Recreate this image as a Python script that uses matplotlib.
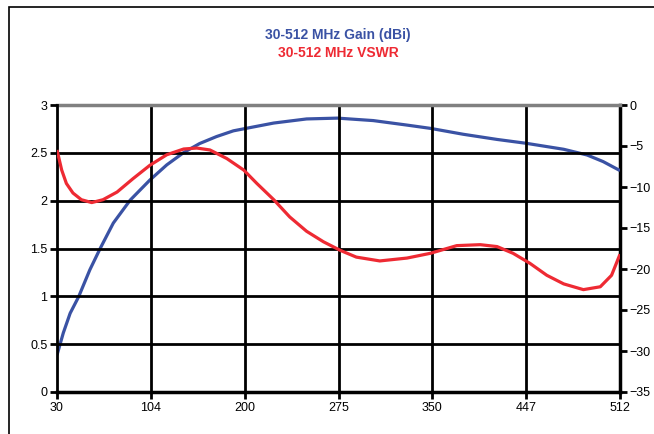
import numpy as np
import matplotlib.pyplot as plt
from matplotlib.patches import Rectangle

plt.rcParams['font.family'] = ['Liberation Sans', 'DejaVu Sans']

freq_labels = ['30', '104', '200', '275', '350', '447', '512']

# curves, x in category units (0 = 30 MHz ... 6 = 512 MHz)
vswr_x = np.array([0, 0.05, 0.10, 0.17, 0.26, 0.37, 0.49, 0.64, 0.81, 0.99, 1.17, 1.35, 1.49,
                   1.63, 1.81, 1.99, 2.13, 2.31, 2.48, 2.66, 2.84, 3.02, 3.19, 3.44, 3.73,
                   3.98, 4.26, 4.51, 4.69, 4.86, 5.04, 5.22, 5.40, 5.61, 5.79, 5.91, 6.0])
vswr = np.array([2.53, 2.32, 2.18, 2.08, 2.01, 1.98, 2.01, 2.09, 2.23, 2.37, 2.48, 2.54, 2.55,
                 2.53, 2.44, 2.32, 2.18, 2.01, 1.83, 1.68, 1.57, 1.48, 1.41, 1.37, 1.40,
                 1.45, 1.53, 1.54, 1.52, 1.45, 1.345, 1.22, 1.13, 1.07, 1.10, 1.22, 1.44])

gain_x = np.array([0, 0.067, 0.14, 0.23, 0.35, 0.46, 0.60, 0.78, 0.99, 1.17, 1.35, 1.52, 1.70,
                   1.88, 2.06, 2.31, 2.66, 2.99, 3.37, 3.73, 3.98, 4.33, 4.69, 5.0, 5.40,
                   5.65, 5.82, 6.0])
gain = np.array([-30.5, -27.8, -25.4, -23.4, -20.1, -17.5, -14.4, -11.6, -9.15, -7.3, -5.8, -4.7, -3.85,
                 -3.15, -2.75, -2.2, -1.7, -1.6, -1.9, -2.45, -2.85, -3.57, -4.2, -4.67, -5.4,
                 -6.1, -6.9, -8.0])

blue = '#3A52A4'
red = '#EE2A33'

fig = plt.figure(figsize=(6.54, 4.34), dpi=100)
ax = fig.add_axes([57 / 654, 1 - 392 / 434, (620 - 57) / 654, (392 - 105) / 434])
ax2 = ax.twinx()

# grid
for yv in np.arange(0.5, 3.0, 0.5):
    ax.axhline(yv, color='black', lw=2.0, zorder=1)
for xv in range(1, 6):
    ax.axvline(xv, color='black', lw=2.0, zorder=1)
ax.axhline(3, color='#808080', lw=2.5, zorder=1, clip_on=False)

ax2.plot(gain_x, gain, color=blue, lw=2.3, zorder=3, solid_joinstyle='round', solid_capstyle='butt')
ax.plot(vswr_x, vswr, color=red, lw=2.3, zorder=3, solid_joinstyle='round', solid_capstyle='butt')
ax.set_zorder(ax2.get_zorder() + 1)
ax.patch.set_visible(False)

ax.set_xlim(0, 6)
ax.set_ylim(0, 3)
ax2.set_ylim(-35, 0)
ax.set_xticks(range(7))
ax.set_xticklabels(freq_labels)
ax.set_yticks(np.arange(0, 3.01, 0.5))
ax.set_yticklabels(['0', '0.5', '1', '1.5', '2', '2.5', '3'])
ax2.set_yticks(np.arange(-35, 1, 5))

for a in (ax, ax2):
    for s in a.spines.values():
        s.set_visible(False)
ax.spines['left'].set_visible(True)
ax.spines['bottom'].set_visible(True)
ax2.spines['right'].set_visible(True)
ax.spines['left'].set_linewidth(2.0)
ax.spines['bottom'].set_linewidth(2.5)
ax2.spines['right'].set_linewidth(2.5)

ax.tick_params(axis='both', direction='out', length=5, width=2, labelsize=9, colors='black', pad=2)
ax2.tick_params(axis='y', direction='out', length=5, width=2, labelsize=9, pad=2)

fig.text(338 / 654, 1 - 35 / 434, '30-512 MHz Gain (dBi)', color=blue, fontsize=10,
         fontweight='bold', ha='center', va='center')
fig.text(338 / 654, 1 - 53 / 434, '30-512 MHz VSWR', color=red, fontsize=10,
         fontweight='bold', ha='center', va='center')

fig.patches.append(Rectangle((9 / 654, -0.1), 1.2, 1 - 7 / 434 + 0.1, transform=fig.transFigure,
                             fill=False, edgecolor='black', lw=1.2))

fig.savefig('out.png', dpi=100)
